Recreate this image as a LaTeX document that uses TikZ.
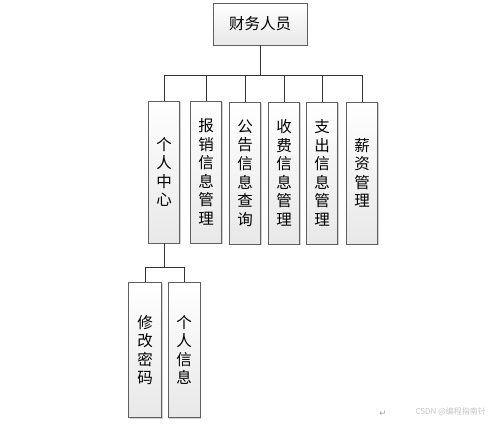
\documentclass[tikz,border=0pt]{standalone}
\usepackage{fontspec}
\newfontfamily\cjk{Noto Sans CJK SC}
\newfontfamily\dejavu{DejaVu Sans}
\usetikzlibrary{shadows}
\begin{document}
\begin{tikzpicture}[x=1pt,y=-1pt,
  box/.style={draw=gray!75!black, line width=0.8pt, top color=white, bottom color=gray!18,
    drop shadow={shadow xshift=1.2pt, shadow yshift=-1.2pt, opacity=0.35, fill=gray},
    inner sep=0pt, font=\cjk\fontsize{15.5}{18.5}\selectfont, align=center},
  link/.style={draw=gray!40!black, line width=1pt}]
\useasboundingbox (0,0) rectangle (500,424);
\fill[white] (0,0) rectangle (500,424);
% top
\node[box, minimum width=94pt, minimum height=42pt] (top) at (260,24) {财务人员};
% second level
\node[box, minimum width=31pt, minimum height=142pt] (c1) at (164,172) {个\\人\\中\\心};
\node[box, minimum width=31pt, minimum height=142pt] (c2) at (206,172) {报\\销\\信\\息\\管\\理};
\node[box, minimum width=31pt, minimum height=142pt] (c3) at (245,173) {公\\告\\信\\息\\查\\询};
\node[box, minimum width=31pt, minimum height=142pt] (c4) at (284,173) {收\\费\\信\\息\\管\\理};
\node[box, minimum width=31pt, minimum height=142pt] (c5) at (322,173) {支\\出\\信\\息\\管\\理};
\node[box, minimum width=31pt, minimum height=142pt] (c6) at (362,173) {薪\\资\\管\\理};
% third level
\node[box, minimum width=33pt, minimum height=135pt] (d1) at (145,350) {修\\改\\密\\码};
\node[box, minimum width=32pt, minimum height=135pt] (d2) at (184,350) {个\\人\\信\\息};
% connectors
\coordinate (bus) at (263,75);
\draw[link] (top.south) -- (top.south |- bus);
\draw[link] (c1.north |- bus) -- (c6.north |- bus);
\foreach \n in {c1,c2,c3,c4,c5,c6} \draw[link] (\n.north |- bus) -- (\n.north);
\coordinate (bus2) at (164,267);
\draw[link] (c1.south) -- (c1.south |- bus2);
\draw[link] (d1.north |- bus2) -- (d2.north |- bus2);
\draw[link] (d1.north |- bus2) -- (d1.north);
\draw[link] (d2.north |- bus2) -- (d2.north);
% marks
\node[text=gray!70, font=\dejavu\fontsize{9}{9}\selectfont] (ret) at (383,414) {↵};
\node[text=gray!45, font=\cjk\fontsize{8}{8}\selectfont, anchor=west] (wm) at (412,412) {CSDN @编程指南针};
\end{tikzpicture}
\end{document}
